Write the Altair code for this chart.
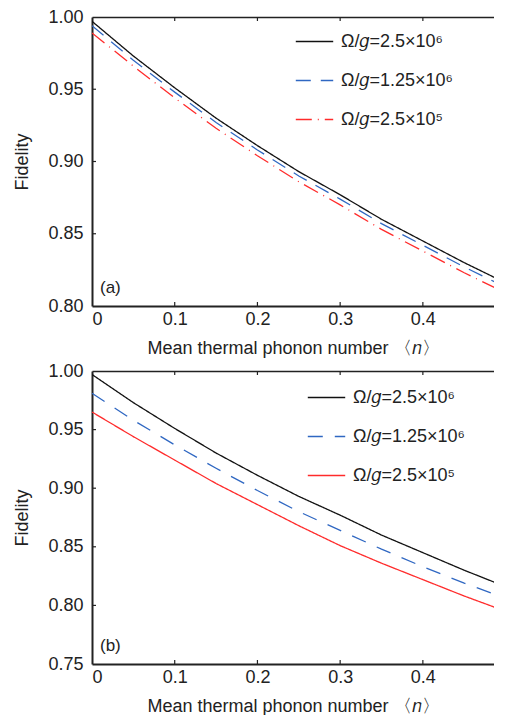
import altair as alt
import pandas as pd

# mean thermal phonon number
n_vals = [0.0, 0.05, 0.10, 0.15, 0.20, 0.25, 0.30, 0.35, 0.40, 0.45, 0.50]

series = ["Ω/𝑔=2.5×10⁶", "Ω/𝑔=1.25×10⁶", "Ω/𝑔=2.5×10⁵"]

# panel (a)
a_black = [0.997, 0.973, 0.951, 0.930, 0.911, 0.893, 0.877, 0.860, 0.845, 0.830, 0.816]
a_blue = [0.994, 0.970, 0.948, 0.927, 0.908, 0.890, 0.874, 0.857, 0.842, 0.827, 0.813]
a_red = [0.989, 0.966, 0.944, 0.923, 0.904, 0.886, 0.870, 0.853, 0.838, 0.823, 0.809]

# panel (b)
b_black = [0.997, 0.973, 0.951, 0.930, 0.911, 0.893, 0.877, 0.860, 0.845, 0.830, 0.816]
b_blue = [0.981, 0.958, 0.937, 0.917, 0.898, 0.880, 0.864, 0.848, 0.833, 0.819, 0.806]
b_red = [0.965, 0.944, 0.924, 0.904, 0.886, 0.868, 0.851, 0.836, 0.822, 0.808, 0.795]

x_ticks = [0, 0.1, 0.2, 0.3, 0.4]
a_y_ticks = [0.80, 0.85, 0.90, 0.95, 1.00]
b_y_ticks = [0.75, 0.80, 0.85, 0.90, 0.95, 1.00]

colors = ["#111111", "#2f67c2", "#ff2b2b"]
FONT = "Liberation Sans"
FS = 18
W = 402
X_MAX = 0.486


def panel(curves, dashes, ydom, yticks, tag, h, legx, legy):
    rows = []
    for s, vals in zip(series, curves):
        for x, v in zip(n_vals, vals):
            rows.append({"n": x, "F": v, "s": s})
    df = pd.DataFrame(rows)
    xscale = alt.Scale(domain=[0, X_MAX], nice=False, zero=False)
    yscale = alt.Scale(domain=ydom, nice=False, zero=False)
    xaxis = alt.Axis(values=x_ticks, tickSize=0, labelPadding=4,
                     labelExpr="datum.value == 0 ? '0' : format(datum.value, '.1f')",
                     title="Mean thermal phonon number 〈𝑛〉", titlePadding=11)
    yaxis = alt.Axis(values=yticks, format=".2f", tickSize=0, labelPadding=9,
                     title="Fidelity", titlePadding=16)
    leg = alt.Legend(title=None, orient="none", legendX=legx, legendY=legy,
                     symbolType="stroke", symbolSize=1400, symbolStrokeWidth=1.3,
                     labelFontSize=FS, labelFont=FONT, labelColor="#222",
                     rowPadding=10, labelOffset=7, padding=0)
    lines = alt.Chart(df).mark_line(strokeWidth=1.3, clip=True).encode(
        x=alt.X("n:Q", scale=xscale, axis=xaxis),
        y=alt.Y("F:Q", scale=yscale, axis=yaxis),
        color=alt.Color("s:N", scale=alt.Scale(domain=series, range=colors), legend=leg),
        strokeDash=alt.StrokeDash("s:N", scale=alt.Scale(domain=series, range=dashes), legend=leg),
    )
    top_axis = alt.Chart(pd.DataFrame({"n": [0.0]})).mark_rule(opacity=0).encode(
        x=alt.X("n:Q", scale=xscale,
                axis=alt.Axis(orient="top", labels=False, ticks=False, title=None,
                              domainWidth=1.5))
    )
    xt = pd.DataFrame({"n": x_ticks[1:]})
    yt = pd.DataFrame({"F": yticks[1:-1]})
    bot_ticks = alt.Chart(xt).mark_rule(color="#222", strokeWidth=1.2).encode(
        x=alt.X("n:Q", scale=xscale, axis=None), y=alt.value(h), y2=alt.value(h - 4))
    top_ticks = alt.Chart(xt).mark_rule(color="#222", strokeWidth=1.2).encode(
        x=alt.X("n:Q", scale=xscale, axis=None), y=alt.value(0), y2=alt.value(4))
    left_ticks = alt.Chart(yt).mark_rule(color="#222", strokeWidth=1.2).encode(
        y=alt.Y("F:Q", scale=yscale, axis=yaxis), x=alt.value(0), x2=alt.value(4))
    label = alt.Chart(pd.DataFrame({"t": [tag]})).mark_text(
        align="left", baseline="middle", fontSize=17, font=FONT, color="#222"
    ).encode(text="t:N", x=alt.value(8), y=alt.value(h - 18))
    return alt.layer(lines, top_axis, bot_ticks, top_ticks, left_ticks, label).resolve_axis(
        x="independent").properties(width=W, height=h)


pa = panel([a_black, a_blue, a_red], [[1, 0], [15, 10], [16, 6, 1, 6]],
           [0.80, 1.00], a_y_ticks, "(a)", 289, 203, 5)
pb = panel([b_black, b_blue, b_red], [[1, 0], [15, 12], [1, 0]],
           [0.75, 1.00], b_y_ticks, "(b)", 293, 215, 7)

chart = alt.vconcat(pa, pb, spacing=5).resolve_scale(
    color="independent", strokeDash="independent"
).properties(
    padding={"left": 5, "top": 0, "right": 0, "bottom": 0}
).configure_axis(
    labelFont=FONT, labelFontSize=FS, labelColor="#222",
    titleFont=FONT, titleFontSize=FS, titleFontWeight="normal", titleColor="#222",
    domainColor="#222", domainWidth=2, grid=False,
).configure_view(stroke=None)

chart.save("out.html", embed_options={"renderer": "svg", "actions": False})
